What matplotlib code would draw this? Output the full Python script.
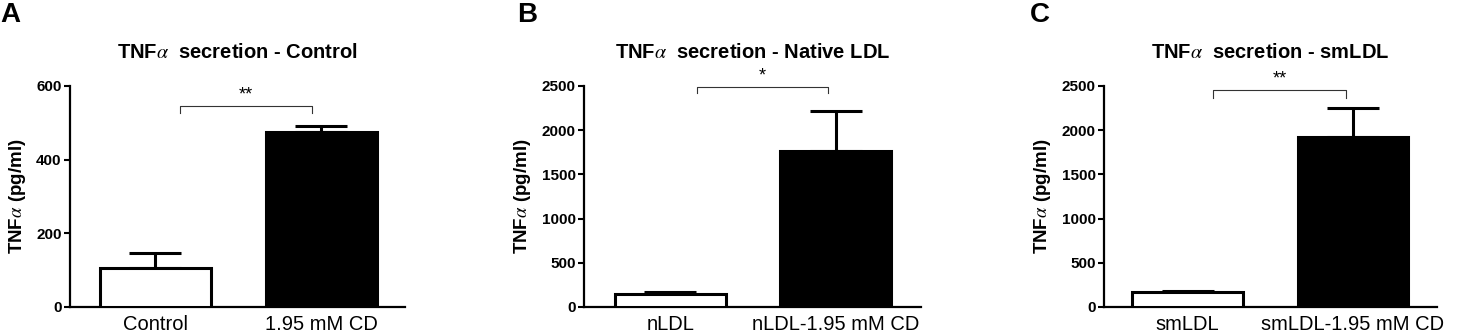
import matplotlib
matplotlib.use("Agg")
import matplotlib.pyplot as plt

plt.rcParams['font.family'] = ['Liberation Sans', 'DejaVu Sans']
plt.rcParams['mathtext.fontset'] = 'stix'

# Data
panels = ["A", "B", "C"]
titles = ["TNF$\\alpha$  secretion - Control",
          "TNF$\\alpha$  secretion - Native LDL",
          "TNF$\\alpha$  secretion - smLDL"]
categories = [["Control", "1.95 mM CD"],
              ["nLDL", "nLDL-1.95 mM CD"],
              ["smLDL", "smLDL-1.95 mM CD"]]
means_A = [106, 475]
means_B = [147, 1765]
means_C = [169, 1926]
sem_A = [41, 16]
sem_B = [23, 452]
sem_C = [11, 326]
ymax = [600, 2500, 2500]
yticks = [[0, 200, 400, 600],
          [0, 500, 1000, 1500, 2000, 2500],
          [0, 500, 1000, 1500, 2000, 2500]]
stars = ["**", "*", "**"]
bracket_y = [546, 2490, 2455]
bracket_drop = [19, 69, 90]

means = [means_A, means_B, means_C]
sems = [sem_A, sem_B, sem_C]

W, H = 1459, 334
fig = plt.figure(figsize=(W / 100, H / 100), dpi=100)

# axes pixel boxes: left, right, bottom(from top), top(from top)
boxes = [(70, 405, 307, 86), (584, 921, 307, 86), (1104, 1437, 307, 86)]
letter_x = [0, 517, 1030]
xlims = [(-0.515, 1.503), (-0.524, 1.518), (-0.505, 1.508)]
brx = [(0.148, 0.943), (0.16, 0.955), (0.154, 0.958)]

for i in range(3):
    l, r, b, t = boxes[i]
    ax = fig.add_axes([l / W, 1 - b / H, (r - l) / W, (b - t) / H])
    x = [0, 1]
    ax.bar(x, means[i], width=0.67, color=["white", "black"], edgecolor="black",
           linewidth=2.2, zorder=3)
    ax.errorbar(x, means[i], yerr=[[0, 0], sems[i]], fmt="none", ecolor="black",
                elinewidth=2.2, capsize=19, capthick=2.2, zorder=2)
    ax.set_xlim(*xlims[i])
    ax.set_ylim(0, ymax[i])
    ax.set_yticks(yticks[i])
    ax.set_xticks(x)
    ax.set_xticklabels(categories[i], fontsize=14.5)
    for lab in ax.get_yticklabels():
        lab.set_fontweight("bold")
        lab.set_fontsize(11)
    ax.tick_params(axis="x", length=0, pad=6)
    ax.tick_params(axis="y", length=4, width=1.5, pad=2)
    for s in ["top", "right"]:
        ax.spines[s].set_visible(False)
    for s in ["left", "bottom"]:
        ax.spines[s].set_linewidth(1.6)
    ax.set_ylabel("TNF$\\alpha$ (pg/ml)", fontsize=13.5, fontweight="bold", labelpad=6)
    ax.set_title(titles[i], fontsize=14.5, fontweight="bold", pad=20)
    # significance bracket
    x0, x1 = brx[i]
    y0 = bracket_y[i]
    d = bracket_drop[i]
    ax.plot([x0, x0, x1, x1], [y0 - d, y0, y0, y0 - d], color="#333333",
            lw=0.8, clip_on=False, zorder=4)
    ax.text((x0 + x1) / 2, y0 + ymax[i] * 0.01, stars[i], ha="center", va="bottom",
            fontsize=13, clip_on=False)
    fig.text(letter_x[i] / W, 1 - 2 / H, panels[i], fontsize=20, fontweight="bold",
             ha="left", va="top")

fig.savefig("out.png", dpi=100)
